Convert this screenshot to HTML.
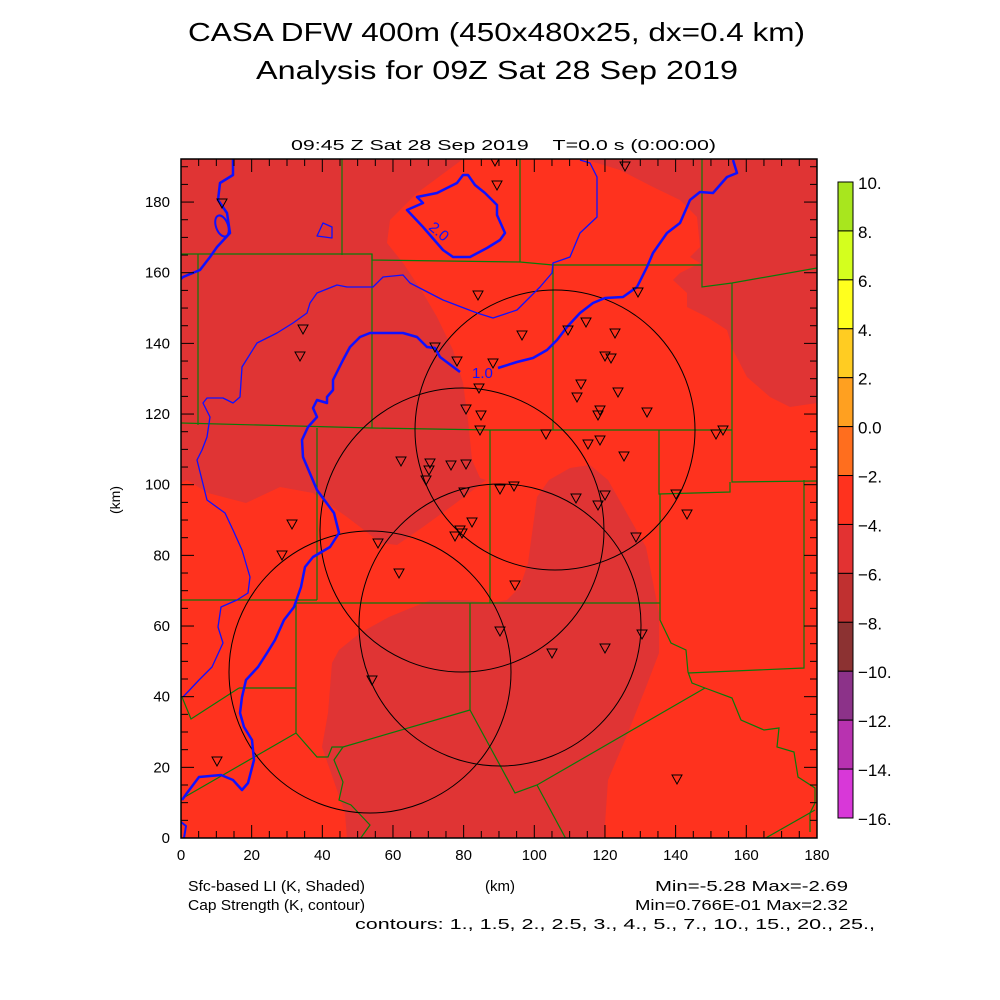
<!DOCTYPE html>
<html><head><meta charset="utf-8"><style>
html,body{margin:0;padding:0;background:#fff;}
svg{display:block;}
text{font-family:"Liberation Sans",sans-serif;fill:#000;}
</style></head><body>
<svg id="s" width="1000" height="1000" xmlns="http://www.w3.org/2000/svg">
<rect width="1000" height="1000" fill="#fff"/>
<text x="188" y="41" font-size="26" textLength="617" lengthAdjust="spacingAndGlyphs">CASA DFW 400m (450x480x25, dx=0.4 km)</text>
<text x="256" y="79" font-size="26" textLength="482" lengthAdjust="spacingAndGlyphs">Analysis for 09Z Sat 28 Sep 2019</text>
<text x="291" y="150" font-size="15" textLength="425" lengthAdjust="spacingAndGlyphs">09:45 Z Sat 28 Sep 2019&#160;&#160;&#160;&#160;T=0.0 s (0:00:00)</text>
<defs><clipPath id="c"><rect x="181" y="159" width="636" height="679"/></clipPath></defs>
<g clip-path="url(#c)">
<rect x="181" y="159" width="636" height="679" fill="#ff321e"/>
<g fill="#e03434">
<polygon points="181,159 463,159 417,193 390,220 387,243 403,263 423,293 437,317 453,350 463,383 468,420 472,460 480,478 486,480 456,503 423,527 397,545 381,543 347,517 313,493 280,487 246,503 208,493 187,480 181,483"/>
<polygon points="347,839 345,813 322,747 328,713 332,663 339,650 360,633 389,617 406,610 431,600 465,600 490,603 507,600 520,587 528,563 537,497 549,480 570,468 590,465 608,480 646,547 659,613 659,653 646,687 625,740 608,780 604,839"/>
<polygon points="587,159 587,160 620,170 653,187 680,200 697,217 700,247 690,257 700,263 680,273 673,280 687,293 687,307 707,317 727,330 733,350 747,377 770,397 790,407 817,403 817,159"/>
</g>
<g fill="none" stroke="#0a7a0a" stroke-width="1.2">
<polyline points="342,159 342,255"/>
<polyline points="181,254 372,254 372,260 520,262 553,265 702,265"/>
<polyline points="520,159 520,262"/>
<polyline points="702,159 702,287 732,283 817,268"/>
<polyline points="198,254 198,425"/>
<polyline points="372,254 372,428"/>
<polyline points="181,423 372,428 490,430 732,430"/>
<polyline points="553,265 553,430"/>
<polyline points="732,283 732,482 817,481"/>
<polyline points="317,428 317,600"/>
<polyline points="490,430 490,603"/>
<polyline points="659,430 659,494 730,492 730,482"/>
<polyline points="181,600 317,600"/>
<polyline points="296,603 490,603 660,603"/>
<polyline points="660,494 660,620 671,643 686,650 688,672 692,683 705,688 732,698 741,720 764,730 779,728 777,747 794,752 798,777 815,788 815,803 810,813 810,832"/>
<polyline points="688,673 804,668 804,480"/>
<polyline points="296,603 296,733"/>
<polyline points="239,688 296,688"/>
<polyline points="182,697 191,719 239,688"/>
<polyline points="296,733 183,798"/>
<polyline points="296,733 317,757 328,757 332,747 343,747 470,710 470,603"/>
<polyline points="470,710 515,793 537,785 705,688"/>
<polyline points="537,785 566,839"/>
<polyline points="343,747 334,760 343,782 339,800 351,805 370,825 360,839"/>
<polyline points="764,839 815,810"/>
</g>
<g fill="none" stroke="#000" stroke-width="1">
<circle cx="555" cy="430" r="140"/>
<circle cx="462" cy="530" r="142"/>
<circle cx="500" cy="625" r="141"/>
<circle cx="370" cy="672" r="141"/>
</g>
<g fill="none" stroke="#1010ff" stroke-linejoin="round">
<polyline stroke-width="2.5" points="233,159 233,175 220,183 218,200 227,213 230,233 217,247 210,257 200,270 183,277 181,279"/>
<ellipse stroke-width="2" cx="222" cy="226" rx="6" ry="11" transform="rotate(-20 222 226)"/>
<polyline stroke-width="1.3" points="580,160 590,163 597,177 597,217 580,233 570,257 553,263 552,273 540,287 517,310 493,318 477,313 443,300 410,283 403,275 383,277 373,287 347,287 337,285 317,293 310,303 307,313 293,323 277,333 257,343 242,367 240,397 233,403 223,398 207,398 203,403 210,417 207,437 202,450 197,460 207,500 225,513 233,530 242,550 250,577 248,593 237,600 221,607 218,627 223,643 212,667 199,680 183,697"/>
<polyline stroke-width="2.5" points="460,372 440,357 435,348 427,347 417,337 403,333 370,333 360,337 350,347 343,360 333,380 333,390 327,397 327,403 317,400 313,408 317,417 308,427 302,440 303,457 317,490 334,513 339,533 330,547 313,557 305,567 301,587 294,607 284,620 275,640 267,653 258,667 246,680 242,697 240,713 244,727 252,740 254,760 248,783 242,790 233,780 221,775 199,777 187,793 182,800"/>
<polyline stroke-width="2.5" points="498,368 517,362 533,358 547,350 557,340 567,327 580,313 593,303 605,298 623,297 630,292 637,287 647,267 653,253 667,233 680,223 690,200 700,192 713,193 727,177 737,173 733,160"/>
<polygon stroke-width="2.5" points="463,175 457,183 437,193 417,197 423,203 407,210 423,227 443,250 453,257 470,257 487,248 500,240 505,233 497,215 497,205 485,193 475,185 468,175"/>
<polygon stroke-width="1.3" points="317,236 323,223 332,227 332,238"/>
<polyline stroke-width="2" points="181,822 186,826 184,838"/>
</g>
<text x="472" y="378" font-size="15" style="fill:#1010ff">1.0</text>
<text x="423" y="232" font-size="15" style="fill:#1010ff" transform="rotate(40 430 237)">2.0</text>
<g id="tri" fill="none" stroke="#000" stroke-width="1"></g>
</g>
<rect x="181" y="159" width="636" height="679" fill="none" stroke="#000" stroke-width="1.5"/>
<g id="ticks" stroke="#000" stroke-width="1"></g>
<g id="lab" font-size="15"></g>
<text x="120" y="500" font-size="14" text-anchor="middle" transform="rotate(-90 120 500)">(km)</text>
<text x="500" y="891" font-size="15" text-anchor="middle">(km)</text>
<text x="188" y="891" font-size="15" textLength="177" lengthAdjust="spacingAndGlyphs">Sfc-based LI (K, Shaded)</text>
<text x="188" y="910" font-size="15" textLength="177" lengthAdjust="spacingAndGlyphs">Cap Strength (K, contour)</text>
<text x="655" y="891" font-size="15" textLength="193" lengthAdjust="spacingAndGlyphs">Min=-5.28 Max=-2.69</text>
<text x="635" y="910" font-size="15" textLength="213" lengthAdjust="spacingAndGlyphs">Min=0.766E-01 Max=2.32</text>
<text x="355" y="929" font-size="15" textLength="520" lengthAdjust="spacingAndGlyphs">contours: 1., 1.5, 2., 2.5, 3., 4., 5., 7., 10., 15., 20., 25.,</text>
<g id="cb"></g>
</svg>
<script>
var NS="http://www.w3.org/2000/svg";
function el(p,t,a,txt){var e=document.createElementNS(NS,t);for(var k in a)e.setAttribute(k,a[k]);if(txt!=null)e.textContent=txt;document.getElementById(p).appendChild(e);return e;}
var k=3.533;
for(var v=0;v<=180;v+=5){var x=181+v*k,L=(v%20==0)?13:7;
el("ticks","line",{x1:x,y1:838,x2:x,y2:838-L});el("ticks","line",{x1:x,y1:159,x2:x,y2:159+L});
if(v%20==0)el("lab","text",{x:x,y:860,"text-anchor":"middle"},String(v));}
for(var v=0;v<=190;v+=5){var y=838-v*k,L=(v%20==0)?13:7;
el("ticks","line",{x1:181,y1:y,x2:181+L,y2:y});el("ticks","line",{x1:817,y1:y,x2:817-L,y2:y});
if(v%20==0&&v<=180)el("lab","text",{x:170,y:y+5,"text-anchor":"end"},String(v));}
var st=[[495,161],[497,185],[222,203],[625,166],[478,295],[638,292],[303,329],[300,356],[435,347],[457,361],[493,363],[522,335],[568,330],[586,322],[615,333],[605,356],[611,358],[581,384],[577,397],[618,392],[479,388],[466,409],[481,415],[480,430],[647,412],[600,410],[598,415],[716,434],[723,430],[546,434],[588,444],[600,440],[624,456],[401,461],[430,463],[451,465],[429,470],[426,480],[466,464],[464,492],[500,489],[514,486],[576,498],[605,495],[598,505],[676,494],[687,514],[292,524],[282,555],[378,543],[472,522],[460,530],[462,533],[455,536],[515,585],[399,573],[636,537],[500,631],[552,653],[605,648],[642,634],[372,680],[217,761],[677,779]];
st.forEach(function(p){var x=p[0],y=p[1];el("tri","polygon",{points:(x-5)+","+(y-4)+" "+(x+5)+","+(y-4)+" "+x+","+(y+5)});});
var cols=["#a8e61e","#d4ff1e","#ffff1e","#ffcc22","#ffa020","#ff6e1e","#ff321e","#e33232","#c03030","#8c3232","#8c3289","#b832b0","#d838d8"];
var labs=["10.","8.","6.","4.","2.","0.0","-2.","-4.","-6.","-8.","-10.","-12.","-14.","-16."];
var h=(818-182)/13;
for(var i=0;i<13;i++)el("cb","rect",{x:838,y:182+i*h,width:15,height:h,fill:cols[i],stroke:"#000","stroke-width":1});
for(var i=0;i<14;i++)el("cb","text",{x:858,y:182+i*h+7,"font-size":17},labs[i].replace("-","\u2212"));
</script>
</body></html>
